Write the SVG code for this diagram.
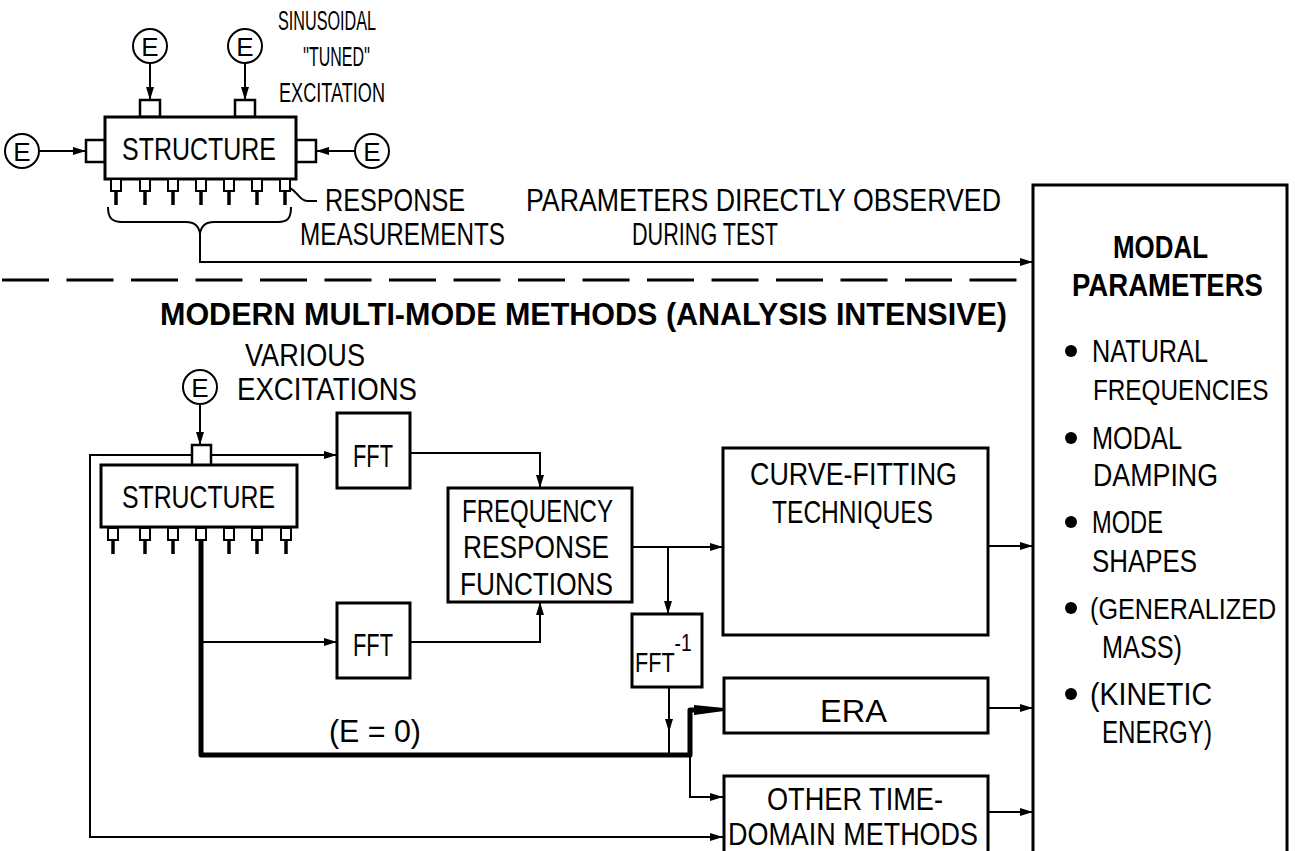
<svg xmlns="http://www.w3.org/2000/svg" width="1295" height="851" viewBox="0 0 1295 851">
<style>
.ln{stroke:#000;stroke-width:2;fill:none}
.th{stroke:#000;stroke-width:5;fill:none}
.bx{fill:#fff;stroke:#000;stroke-width:3}
.tab{fill:#fff;stroke:#000;stroke-width:2.5}
.pin{fill:#fff;stroke:#000;stroke-width:2}
.stem{stroke:#000;stroke-width:3.5}
.ec{fill:#fff;stroke:#000;stroke-width:2}
.t{font-family:"Liberation Sans Narrow","Liberation Sans",Arial,sans-serif;font-size:31px;fill:#000}
.w{font-family:"Liberation Sans",Arial,sans-serif;fill:#000}
.s{font-size:27px}
.e{font-size:26px;text-anchor:middle}
.b{font-weight:bold}
</style>
<defs>
<marker id="ah" viewBox="0 0 13 8" refX="13" refY="4" markerWidth="13" markerHeight="8" orient="auto" markerUnits="userSpaceOnUse"><path d="M0,0 L13,4 L0,8 z" fill="#000"/></marker>
<g id="pin"><rect class="pin" x="-5" y="0" width="10" height="12"/><line class="stem" x1="0" y1="12" x2="0" y2="26"/></g>
</defs>
<rect width="1295" height="851" fill="#fff"/>

<g id="connectors">
<line class="ln" x1="150" y1="63" x2="150" y2="100" marker-end="url(#ah)"/>
<line class="ln" x1="245" y1="63" x2="245" y2="100" marker-end="url(#ah)"/>
<line class="ln" x1="39" y1="151" x2="86" y2="151" marker-end="url(#ah)"/>
<line class="ln" x1="355" y1="151" x2="316" y2="151" marker-end="url(#ah)"/>
<path class="ln" d="M289,188 C297,190 299,201 307,201 L317,201"/>
<path class="ln" d="M108,207 C108,218 112,222 122,222 L186,222 C194,222 199,226 200,234 C201,226 206,222 214,222 L278,222 C288,222 291,218 291,207"/>
<path class="ln" d="M200,234 L200,262 L1033,262" marker-end="url(#ah)"/>
<line x1="2" y1="280" x2="1033" y2="280" stroke="#000" stroke-width="3" stroke-dasharray="47 17.5"/>

<line class="ln" x1="200" y1="404" x2="200" y2="445" marker-end="url(#ah)"/>
<line class="ln" x1="211" y1="455" x2="337" y2="455" marker-end="url(#ah)"/>
<path class="ln" d="M192,455 L90,455 L90,837 L723,837" marker-end="url(#ah)"/>
<path class="ln" d="M410,453 L540,453 L540,488" marker-end="url(#ah)"/>
<line class="ln" x1="201" y1="642" x2="337" y2="642" marker-end="url(#ah)"/>
<path class="ln" d="M410,642 L540,642 L540,602" marker-end="url(#ah)"/>
<line class="ln" x1="632" y1="547" x2="723" y2="547" marker-end="url(#ah)"/>
<line class="ln" x1="668" y1="547" x2="668" y2="614" marker-end="url(#ah)"/>
<line class="ln" x1="669" y1="687" x2="669" y2="732" marker-end="url(#ah)"/>
<line class="ln" x1="669" y1="730" x2="669" y2="755"/>
<path class="th" d="M201,540 L201,755 L690,755 L690,710 L700,710" stroke-linejoin="round"/>
<polygon points="694,705 724,708 724,711 694,715" fill="#000"/>
<path class="ln" d="M690,755 L690,797 L723,797" marker-end="url(#ah)"/>
<line class="ln" x1="988" y1="546" x2="1033" y2="546" marker-end="url(#ah)"/>
<line class="ln" x1="988" y1="708" x2="1033" y2="708" marker-end="url(#ah)"/>
<line class="ln" x1="988" y1="812" x2="1033" y2="812" marker-end="url(#ah)"/>
</g>

<g id="e-top1"><circle class="ec" cx="150" cy="46" r="17"/><text class="t e" x="150" y="55.5">E</text></g>
<g id="e-top2"><circle class="ec" cx="245" cy="46" r="17"/><text class="t e" x="245" y="55.5">E</text></g>
<g id="e-left"><circle class="ec" cx="22" cy="151" r="17"/><text class="t e" x="22" y="160.5">E</text></g>
<g id="e-right"><circle class="ec" cx="372" cy="151" r="17"/><text class="t e" x="372" y="160.5">E</text></g>
<g id="structure-top">
<rect class="tab" x="140" y="100" width="20" height="17"/>
<rect class="tab" x="235" y="100" width="20" height="17"/>
<rect class="tab" x="86" y="140" width="19" height="22"/>
<rect class="tab" x="296" y="140" width="20" height="22"/>
<rect class="bx" x="105" y="117" width="191" height="62"/>
<text class="t" x="122" y="160" textLength="154" lengthAdjust="spacingAndGlyphs">STRUCTURE</text>
<use href="#pin" x="116" y="179"/><use href="#pin" x="145" y="179"/><use href="#pin" x="173" y="179"/><use href="#pin" x="201" y="179"/><use href="#pin" x="229" y="179"/><use href="#pin" x="257" y="179"/><use href="#pin" x="285" y="179"/>
</g>
<g id="labels-top">
<text class="t s" x="278" y="30" textLength="98" lengthAdjust="spacingAndGlyphs">SINUSOIDAL</text>
<text class="t s" x="303" y="66" textLength="67" lengthAdjust="spacingAndGlyphs">''TUNED''</text>
<text class="t s" x="279" y="102" textLength="106" lengthAdjust="spacingAndGlyphs">EXCITATION</text>
<text class="t" x="325" y="211" textLength="140" lengthAdjust="spacingAndGlyphs">RESPONSE</text>
<text class="t" x="300" y="245" textLength="205" lengthAdjust="spacingAndGlyphs">MEASUREMENTS</text>
<text class="t" x="526" y="211" textLength="475" lengthAdjust="spacingAndGlyphs">PARAMETERS DIRECTLY OBSERVED</text>
<text class="t" x="632" y="245" textLength="146" lengthAdjust="spacingAndGlyphs">DURING TEST</text>
<text class="t b" x="160" y="325" font-size="38" textLength="847" lengthAdjust="spacingAndGlyphs">MODERN MULTI-MODE METHODS (ANALYSIS INTENSIVE)</text>
</g>

<g id="e-lower"><circle class="ec" cx="200" cy="387" r="17"/><text class="t e" x="200" y="396.5">E</text></g>
<g id="labels-lower">
<text class="t" x="245" y="366" textLength="120" lengthAdjust="spacingAndGlyphs">VARIOUS</text>
<text class="t" x="237" y="400" textLength="180" lengthAdjust="spacingAndGlyphs">EXCITATIONS</text>
<text class="t" x="329" y="742" textLength="92" lengthAdjust="spacingAndGlyphs">(E = 0)</text>
</g>
<g id="structure-lower">
<rect class="tab" x="192" y="445" width="19" height="22"/>
<rect class="bx" x="101" y="465" width="196" height="62"/>
<text class="t" x="122" y="508" textLength="153" lengthAdjust="spacingAndGlyphs">STRUCTURE</text>
<use href="#pin" x="113" y="528"/><use href="#pin" x="145" y="528"/><use href="#pin" x="173" y="528"/><use href="#pin" x="201" y="528"/><use href="#pin" x="229" y="528"/><use href="#pin" x="257" y="528"/><use href="#pin" x="286" y="528"/>
</g>
<g id="fft-upper"><rect class="bx" x="337" y="413" width="73" height="75"/><text class="t" x="353" y="467" textLength="40" lengthAdjust="spacingAndGlyphs">FFT</text></g>
<g id="fft-lower"><rect class="bx" x="337" y="603" width="73" height="75"/><text class="t" x="353" y="656" textLength="40" lengthAdjust="spacingAndGlyphs">FFT</text></g>
<g id="frf"><rect class="bx" x="448" y="488" width="184" height="114"/>
<text class="t" x="462" y="522" textLength="151" lengthAdjust="spacingAndGlyphs">FREQUENCY</text>
<text class="t" x="463" y="558" textLength="146" lengthAdjust="spacingAndGlyphs">RESPONSE</text>
<text class="t" x="460" y="595" textLength="153" lengthAdjust="spacingAndGlyphs">FUNCTIONS</text></g>
<g id="curve-fitting"><rect class="bx" x="723" y="448" width="265" height="187"/>
<text class="t" x="750" y="485" textLength="207" lengthAdjust="spacingAndGlyphs">CURVE-FITTING</text>
<text class="t" x="772" y="523" textLength="161" lengthAdjust="spacingAndGlyphs">TECHNIQUES</text></g>
<g id="fft-inverse"><rect class="bx" x="632" y="614" width="70" height="73"/>
<text class="w" font-size="27" transform="translate(635,672) scale(0.8,1)">FFT<tspan dy="-21" font-size="24">-1</tspan></text></g>
<g id="era"><rect class="bx" x="724" y="678" width="264" height="55"/>
<text class="t" x="820" y="722" font-family="Liberation Sans" font-size="34" textLength="67" lengthAdjust="spacingAndGlyphs">ERA</text></g>
<g id="other-time-domain"><rect class="bx" x="724" y="776" width="264" height="90"/>
<text class="t" x="767" y="810" textLength="176" lengthAdjust="spacingAndGlyphs">OTHER TIME-</text>
<text class="t" x="728" y="845" textLength="250" lengthAdjust="spacingAndGlyphs">DOMAIN METHODS</text></g>

<g id="modal-parameters"><rect class="bx" x="1033" y="185" width="254" height="680"/>
<text class="t b" x="1113" y="258" font-size="34" textLength="95" lengthAdjust="spacingAndGlyphs">MODAL</text>
<text class="t b" x="1072" y="296" font-size="34" textLength="191" lengthAdjust="spacingAndGlyphs">PARAMETERS</text>
<circle cx="1071" cy="351" r="6"/>
<text class="t" x="1092" y="362" textLength="116" lengthAdjust="spacingAndGlyphs">NATURAL</text>
<text class="w" font-size="30" transform="translate(1093,400) scale(0.81,1)">FREQUENCIES</text>
<circle cx="1071" cy="438" r="6"/>
<text class="t" x="1092" y="449" textLength="90" lengthAdjust="spacingAndGlyphs">MODAL</text>
<text class="t" x="1093" y="486" textLength="125" lengthAdjust="spacingAndGlyphs">DAMPING</text>
<circle cx="1071" cy="522" r="6"/>
<text class="t" x="1092" y="533" textLength="71" lengthAdjust="spacingAndGlyphs">MODE</text>
<text class="t" x="1092" y="572" textLength="105" lengthAdjust="spacingAndGlyphs">SHAPES</text>
<circle cx="1071" cy="608" r="6"/>
<text class="w" font-size="30" transform="translate(1090,619) scale(0.84,1)">(GENERALIZED</text>
<text class="t" x="1102" y="658" textLength="80" lengthAdjust="spacingAndGlyphs">MASS)</text>
<circle cx="1071" cy="694" r="6"/>
<text class="t" x="1090" y="705" textLength="122" lengthAdjust="spacingAndGlyphs">(KINETIC</text>
<text class="t" x="1102" y="743" textLength="110" lengthAdjust="spacingAndGlyphs">ENERGY)</text>
</g>
</svg>
